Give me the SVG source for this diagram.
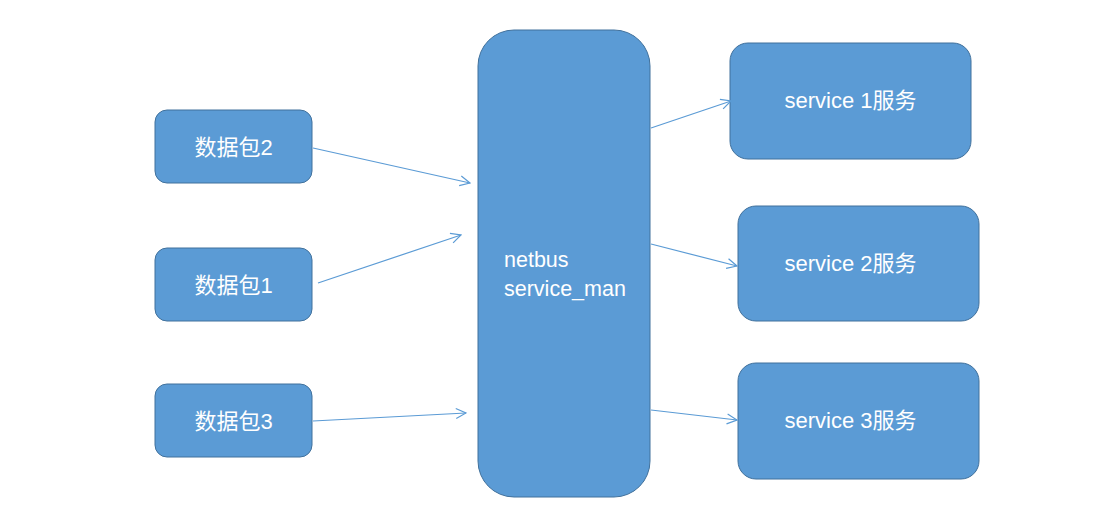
<svg xmlns="http://www.w3.org/2000/svg" width="1099" height="519" viewBox="0 0 1099 519">
<defs>
<style>
.box{fill:#5B9BD5;stroke:#41719C;stroke-width:1}
.t{fill:#fff;font-family:"Liberation Sans","Noto Sans CJK SC",sans-serif;font-size:22px}
.c{text-anchor:middle}
.ln{stroke:#5B9BD5;stroke-width:1.2;fill:none;marker-end:url(#ah)}
</style>
<marker id="ah" viewBox="0 0 12 12" refX="11" refY="6" markerWidth="12" markerHeight="12" markerUnits="userSpaceOnUse" orient="auto">
<path d="M1,1 L11,6 L1,11" fill="none" stroke="#5B9BD5" stroke-width="1.2"/>
</marker>
</defs>
<rect width="1099" height="519" fill="#fff"/>
<g id="pkt2"><rect class="box" x="155" y="110" width="157" height="73" rx="12"/><text class="t c" x="233.5" y="155">数据包2</text></g>
<g id="pkt1"><rect class="box" x="155" y="248" width="157" height="73" rx="12"/><text class="t c" x="233.5" y="293">数据包1</text></g>
<g id="pkt3"><rect class="box" x="155" y="384" width="157" height="73" rx="12"/><text class="t c" x="233.5" y="429">数据包3</text></g>
<g id="netbus"><rect class="box" x="478" y="30" width="172" height="467" rx="36"/><text class="t" x="504" y="267" style="font-size:21.5px">netbus</text><text class="t" x="504" y="296" style="font-size:21.5px">service_man</text></g>
<g id="svc1"><rect class="box" x="730" y="43" width="241" height="116" rx="18"/><text class="t c" x="850.5" y="108">service 1服务</text></g>
<g id="svc2"><rect class="box" x="738" y="206" width="241" height="115" rx="18"/><text class="t c" x="850.5" y="271">service 2服务</text></g>
<g id="svc3"><rect class="box" x="738" y="363" width="241" height="116" rx="18"/><text class="t c" x="850.5" y="428">service 3服务</text></g>
<g id="connectors">
<line class="ln" x1="313" y1="148" x2="470" y2="183"/>
<line class="ln" x1="318" y1="283" x2="461" y2="235"/>
<line class="ln" x1="313" y1="421" x2="466" y2="413"/>
<line class="ln" x1="651" y1="128" x2="731" y2="101"/>
<line class="ln" x1="651" y1="244" x2="737" y2="266"/>
<line class="ln" x1="651" y1="410" x2="737" y2="420"/>
</g>
</svg>
